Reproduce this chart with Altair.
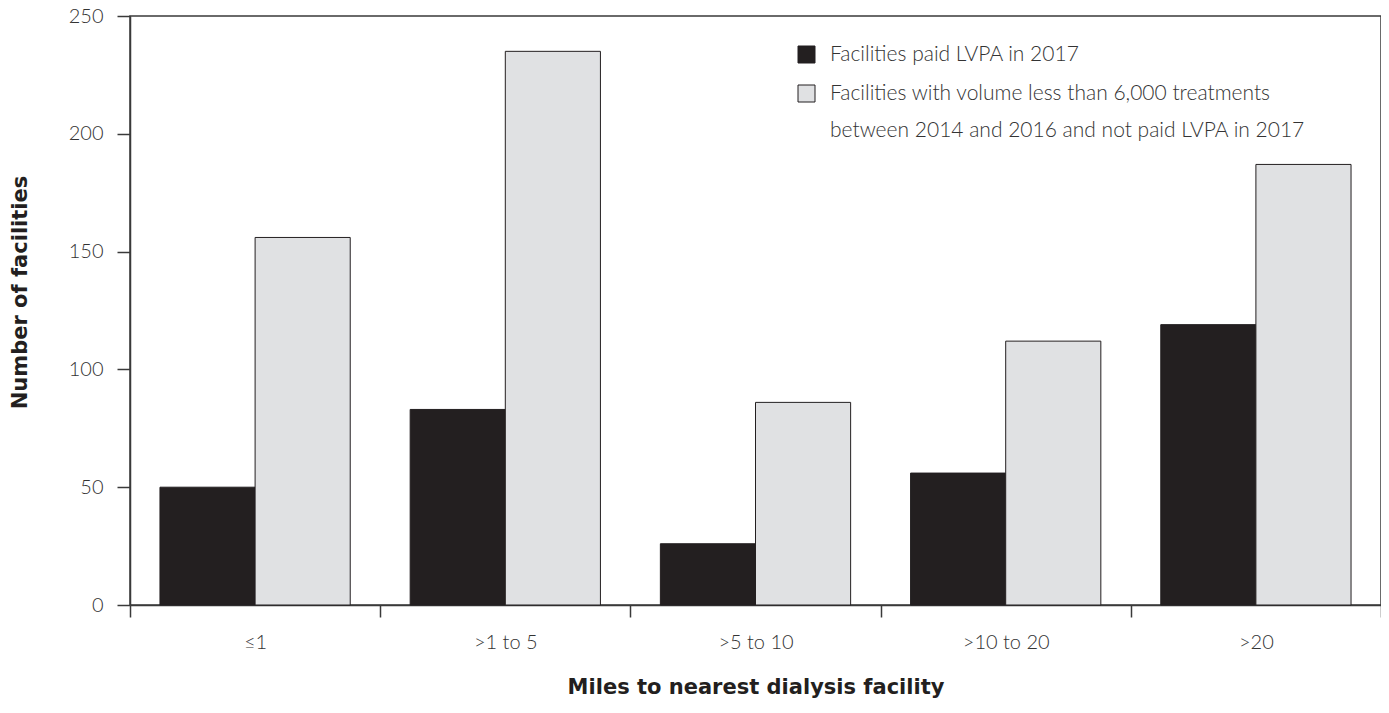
import altair as alt
import pandas as pd

categories = ["≤1", ">1 to 5", ">5 to 10", ">10 to 20", ">20"]
series_names = [
    "Facilities paid LVPA in 2017",
    "Facilities with volume less than 6,000 treatments between 2014 and 2016 and not paid LVPA in 2017",
]
legend_line_1 = "Facilities with volume less than 6,000 treatments"
legend_line_2 = "between 2014 and 2016 and not paid LVPA in 2017"
paid = [50, 83, 26, 56, 119]
not_paid = [156, 235, 86, 112, 187]
colors = ["#231f20", "#e0e1e3"]

rows = []
for c, a, b in zip(categories, paid, not_paid):
    rows.append({"miles": c, "series": series_names[0], "value": a})
    rows.append({"miles": c, "series": series_names[1], "value": b})
df = pd.DataFrame(rows)

FONT = "Lato"
TITLE_FONT = "DejaVu Sans"
AXIS_COLOR = "#3a3a3a"
TEXT_COLOR = "#333333"

label_expr = (
    f"datum.label == '{series_names[1]}' ? ['{legend_line_1}', '{legend_line_2}'] : datum.label"
)

chart = (
    alt.Chart(df)
    .mark_bar(stroke="#231f20", strokeWidth=1)
    .encode(
        x=alt.X(
            "miles:N",
            sort=categories,
            scale=alt.Scale(paddingInner=0, paddingOuter=0),
            axis=alt.Axis(
                title="Miles to nearest dialysis facility",
                labelAngle=0,
                tickBand="extent",
                tickSize=12,
                labelPadding=15,
                titlePadding=24,
            ),
        ),
        xOffset=alt.XOffset(
            "series:N",
            sort=series_names,
            scale=alt.Scale(paddingInner=0, paddingOuter=0.315),
        ),
        y=alt.Y(
            "value:Q",
            scale=alt.Scale(domain=[0, 250], nice=False),
            axis=alt.Axis(
                title="Number of facilities",
                values=[0, 50, 100, 150, 200, 250],
                tickSize=13,
                labelPadding=14,
                titlePadding=38,
                titleY=276,
                grid=False,
            ),
        ),
        color=alt.Color(
            "series:N",
            sort=series_names,
            scale=alt.Scale(domain=series_names, range=colors),
            legend=alt.Legend(
                title=None,
                orient="none",
                legendX=666,
                legendY=28,
                symbolType="square",
                symbolSize=289,
                symbolStrokeColor="#231f20",
                symbolStrokeWidth=1,
                labelFont=FONT,
                labelFontSize=21,
                labelFontWeight=300,
                labelColor=TEXT_COLOR,
                labelOffset=13,
                labelLimit=700,
                labelExpr=label_expr,
                rowPadding=17,
                padding=0,
            ),
        ),
    )
    .properties(
        width=1251,
        height=589,
        autosize=alt.AutoSizeParams(type="none"),
        padding={"left": 122, "top": 8, "right": 0, "bottom": 94},
    )
    .configure(style={"guide-label": {"lineHeight": 37}})
    .configure_view(stroke=AXIS_COLOR, strokeWidth=1.5)
    .configure_axis(
        domainColor=AXIS_COLOR,
        domainWidth=1.5,
        tickColor=AXIS_COLOR,
        tickWidth=1.5,
        labelFont=FONT,
        labelFontSize=20,
        labelFontWeight=300,
        labelColor=TEXT_COLOR,
        titleFont=TITLE_FONT,
        titleFontSize=21,
        titleFontWeight="bold",
        titleColor="#231f20",
    )
)

chart.save("out.html", embed_options={"renderer": "svg", "actions": False})
